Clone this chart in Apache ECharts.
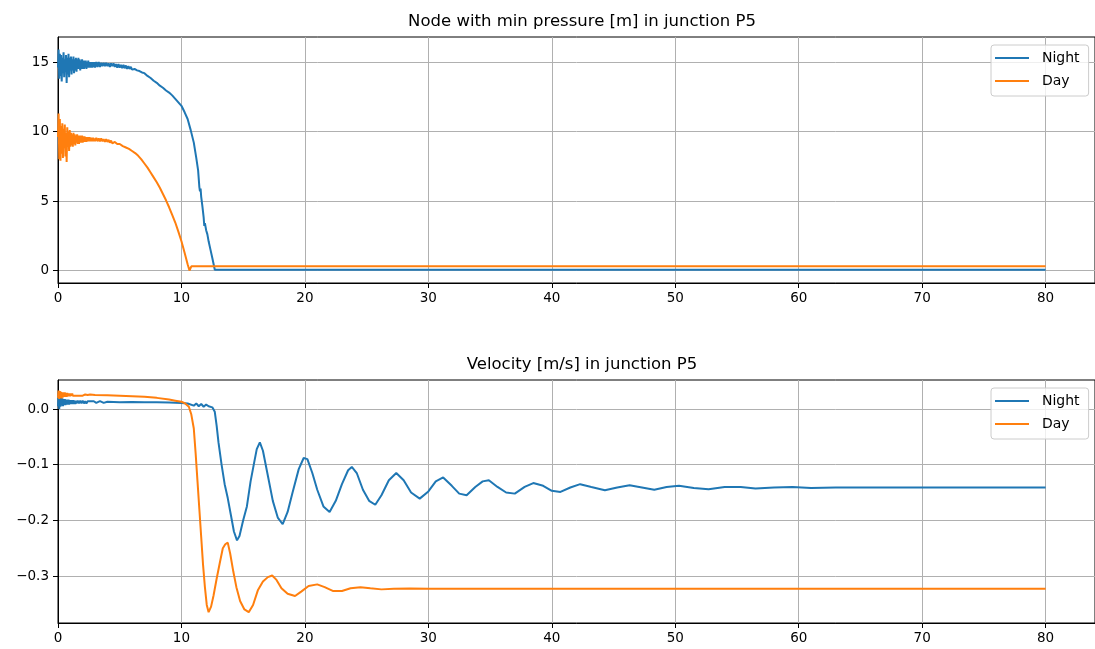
<!DOCTYPE html>
<html>
<head>
<meta charset="utf-8">
<script src="https://cdn.jsdelivr.net/npm/echarts@6/dist/echarts.min.js"></script>
<style>
  html, body { margin: 0; padding: 0; background: #fff; }
  #chart { width: 1095px; height: 649px; }
</style>
</head>
<body>
<div id="chart"></div>
<script>
// Time [s] and minimum node pressure [m], night demand
const nightPressure = [
  [0.00,14.6],[0.05,15.9],[0.10,13.8],[0.15,15.6],[0.20,14.0],[0.25,15.5],[0.30,13.6],[0.35,15.3],
  [0.40,14.2],[0.45,15.7],[0.50,13.9],[0.55,15.2],[0.60,14.3],[0.65,15.5],[0.70,13.5],[0.75,15.3],
  [0.80,14.1],[0.85,15.6],[0.90,13.9],[0.95,15.3],[1.00,14.4],[1.05,15.4],[1.10,14.1],[1.15,15.2],
  [1.20,14.4],[1.25,15.4],[1.30,14.2],[1.35,15.2],[1.40,14.4],[1.45,15.3],[1.50,14.3],[1.55,15.2],
  [1.60,14.5],[1.65,15.3],[1.70,14.5],[1.75,15.2],[1.80,14.4],[1.85,15.1],[1.90,14.5],[1.95,15.2],
  [2.00,14.5],[2.05,15.1],[2.10,14.5],[2.15,15.1],[2.20,14.6],[2.25,15.1],[2.30,14.5],[2.35,15.0],
  [2.40,14.6],[2.45,15.1],[2.50,14.6],[2.55,15.0],[2.60,14.6],[2.65,15.0],[2.70,14.6],[2.75,15.0],
  [2.80,14.6],[2.85,15.0],[2.90,14.65],[2.95,15.0],[3.00,14.6],[3.10,15.0],[3.20,14.65],[3.30,15.0],
  [3.40,14.65],[3.50,14.95],[3.60,14.7],[3.70,14.95],[3.80,14.7],[3.90,14.95],[4.00,14.7],[4.10,14.9],
  [4.20,14.65],[4.30,14.9],[4.40,14.7],[4.50,14.9],[4.60,14.65],[4.70,14.85],[4.80,14.6],[4.90,14.85],
  [5.00,14.6],[5.10,14.8],[5.20,14.55],[5.30,14.8],[5.40,14.55],[5.50,14.75],[5.60,14.5],[5.70,14.7],
  [5.80,14.5],[5.90,14.65],[6.00,14.45],[6.20,14.5],[6.40,14.4],[6.60,14.35],[6.80,14.25],
  [7.00,14.2],[7.25,14.0],[7.50,13.85],[7.75,13.65],[8.00,13.5],[8.25,13.3],[8.50,13.15],[8.75,12.95],
  [9.00,12.8],[9.25,12.6],[9.50,12.35],[9.75,12.1],[10.00,11.85],[10.25,11.4],[10.50,10.9],[10.75,10.1],
  [11.00,9.2],[11.20,8.1],[11.35,7.2],[11.45,6.0],[11.50,5.7],[11.55,5.9],[11.60,5.3],[11.70,4.6],
  [11.80,3.8],[11.85,3.2],[11.90,3.4],[12.00,2.9],[12.10,2.6],[12.20,2.1],[12.35,1.5],[12.50,0.9],
  [12.70,0.05],[80.00,0.05]
];

// Time [s] and minimum node pressure [m], day demand
const dayPressure = [
  [0.00,9.6],[0.05,11.3],[0.10,8.0],[0.15,10.9],[0.20,7.9],[0.25,10.4],[0.30,8.4],[0.35,10.6],
  [0.40,8.1],[0.45,10.2],[0.50,8.8],[0.55,10.5],[0.60,8.2],[0.65,9.9],[0.70,7.8],[0.75,10.3],
  [0.80,8.9],[0.85,10.0],[0.90,8.6],[0.95,10.1],[1.00,8.9],[1.05,9.9],[1.10,9.0],[1.15,9.8],
  [1.20,8.9],[1.25,9.9],[1.30,9.1],[1.35,9.8],[1.40,9.0],[1.45,9.7],[1.50,9.2],[1.55,9.8],
  [1.60,9.1],[1.65,9.7],[1.70,9.1],[1.75,9.7],[1.80,9.2],[1.85,9.7],[1.90,9.2],[1.95,9.7],
  [2.00,9.2],[2.05,9.65],[2.10,9.25],[2.15,9.65],[2.20,9.25],[2.25,9.6],[2.30,9.25],[2.35,9.6],
  [2.40,9.3],[2.45,9.6],[2.50,9.3],[2.55,9.6],[2.60,9.3],[2.65,9.55],[2.70,9.3],[2.75,9.55],
  [2.80,9.3],[2.85,9.55],[2.90,9.3],[2.95,9.5],[3.00,9.3],[3.10,9.55],[3.20,9.3],[3.30,9.5],
  [3.40,9.3],[3.50,9.5],[3.60,9.3],[3.70,9.45],[3.80,9.25],[3.90,9.45],[4.00,9.25],[4.10,9.4],
  [4.20,9.2],[4.30,9.35],[4.40,9.15],[4.60,9.25],[4.80,9.1],[5.00,9.1],[5.25,8.95],
  [5.50,8.85],[5.75,8.75],[6.00,8.6],[6.25,8.45],[6.50,8.25],[6.75,8.0],[7.00,7.7],[7.25,7.4],
  [7.50,7.05],[7.75,6.7],[8.00,6.35],[8.25,5.95],[8.50,5.5],[8.75,5.05],[9.00,4.55],[9.25,4.0],
  [9.50,3.45],[9.75,2.8],[10.00,2.1],[10.25,1.3],[10.50,0.45],[10.65,0.0],[10.80,0.3],[80.00,0.3]
];

// Time [s] and flow velocity [m/s], night demand
const nightVelocity = [
  [0.00,0.005],[0.05,0.025],[0.10,0.000],[0.15,0.022],[0.20,0.004],[0.25,0.020],[0.30,0.006],[0.35,0.019],
  [0.40,0.005],[0.45,0.018],[0.50,0.007],[0.55,0.018],[0.60,0.007],[0.65,0.017],[0.70,0.008],[0.75,0.017],
  [0.80,0.008],[0.85,0.017],[0.90,0.008],[0.95,0.016],[1.00,0.009],[1.05,0.016],[1.10,0.009],[1.15,0.016],
  [1.20,0.009],[1.25,0.016],[1.30,0.009],[1.35,0.015],[1.40,0.009],[1.45,0.015],[1.50,0.010],[1.60,0.015],
  [1.70,0.010],[1.80,0.015],[1.90,0.010],[2.00,0.015],[2.10,0.010],[2.20,0.014],[2.30,0.010],[2.40,0.014],
  [2.50,0.011],[2.60,0.014],[2.70,0.011],[2.90,0.014],[3.10,0.011],[3.40,0.014],[3.70,0.011],[4.00,0.013],
  [5.00,0.012],[6.00,0.0125],[7.00,0.012],[8.00,0.012],[9.00,0.0115],[10.00,0.011],[10.50,0.010],[11.00,0.006],
  [11.20,0.010],[11.40,0.005],[11.60,0.009],[11.80,0.004],[12.00,0.008],[12.20,0.005],[12.50,0.003],[12.70,-0.005],
  [12.85,-0.03],[13.00,-0.06],[13.25,-0.10],[13.50,-0.135],[13.75,-0.16],[14.00,-0.19],[14.25,-0.22],[14.50,-0.236],
  [14.70,-0.228],[15.00,-0.20],[15.30,-0.175],[15.60,-0.13],[15.90,-0.095],[16.10,-0.072],[16.35,-0.060],[16.60,-0.075],
  [17.00,-0.12],[17.40,-0.165],[17.80,-0.195],[18.20,-0.207],[18.60,-0.185],[19.00,-0.15],[19.50,-0.108],[19.90,-0.088],
  [20.20,-0.090],[20.60,-0.115],[21.00,-0.145],[21.50,-0.175],[22.00,-0.185],[22.50,-0.165],[23.00,-0.135],[23.50,-0.110],
  [23.80,-0.104],[24.20,-0.115],[24.70,-0.145],[25.20,-0.165],[25.70,-0.172],[26.20,-0.155],[26.80,-0.128],[27.40,-0.115],
  [28.00,-0.128],[28.60,-0.150],[29.30,-0.161],[30.00,-0.148],[30.60,-0.130],[31.20,-0.123],[31.90,-0.138],[32.50,-0.152],
  [33.10,-0.155],[33.80,-0.140],[34.40,-0.130],[34.90,-0.128],[35.60,-0.140],[36.30,-0.150],[37.00,-0.152],[37.80,-0.140],
  [38.50,-0.133],[39.30,-0.138],[40.00,-0.147],[40.70,-0.149],[41.50,-0.141],[42.30,-0.135],[43.20,-0.140],[44.30,-0.146],
  [45.30,-0.141],[46.30,-0.137],[47.30,-0.141],[48.30,-0.145],[49.30,-0.140],[50.30,-0.138],[51.50,-0.142],[52.70,-0.144],
  [54.00,-0.140],[55.30,-0.140],[56.50,-0.143],[58.00,-0.141],[59.50,-0.140],[61.00,-0.142],[63.00,-0.141],[66.00,-0.141],
  [70.00,-0.141],[75.00,-0.141],[80.00,-0.141]
];

// Time [s] and flow velocity [m/s], day demand
const dayVelocity = [
  [0.00,0.020],[0.05,0.033],[0.10,0.018],[0.15,0.032],[0.20,0.020],[0.25,0.031],[0.30,0.019],[0.35,0.030],
  [0.40,0.021],[0.45,0.030],[0.50,0.022],[0.55,0.030],[0.60,0.022],[0.65,0.029],[0.70,0.022],[0.75,0.029],
  [0.80,0.023],[0.85,0.028],[0.90,0.023],[0.95,0.028],[1.00,0.023],[1.05,0.028],[1.10,0.024],[1.15,0.028],
  [1.20,0.024],[1.25,0.027],[1.30,0.024],[1.35,0.027],[1.40,0.024],[1.50,0.027],[1.60,0.024],[1.70,0.027],
  [1.80,0.024],[1.90,0.026],[2.00,0.024],[2.20,0.026],[2.40,0.025],[2.60,0.026],[3.00,0.025],[4.00,0.0245],
  [5.00,0.024],[6.00,0.023],[7.00,0.022],[8.00,0.020],[9.00,0.017],[9.50,0.015],[10.00,0.013],[10.30,0.010],
  [10.60,0.004],[10.80,-0.010],[11.00,-0.035],[11.15,-0.08],[11.30,-0.13],[11.45,-0.18],[11.60,-0.23],[11.75,-0.28],
  [11.90,-0.32],[12.05,-0.352],[12.20,-0.365],[12.40,-0.355],[12.60,-0.335],[12.85,-0.305],[13.10,-0.277],[13.35,-0.250],
  [13.55,-0.243],[13.75,-0.240],[13.95,-0.260],[14.20,-0.292],[14.45,-0.320],[14.75,-0.345],[15.10,-0.360],[15.45,-0.365],
  [15.80,-0.352],[16.20,-0.325],[16.60,-0.310],[17.00,-0.302],[17.35,-0.299],[17.70,-0.307],[18.10,-0.322],[18.60,-0.332],
  [19.20,-0.336],[19.70,-0.328],[20.30,-0.318],[21.00,-0.315],[21.60,-0.320],[22.30,-0.327],[23.00,-0.327],[23.70,-0.322],
  [24.50,-0.320],[25.30,-0.322],[26.20,-0.324],[27.20,-0.323],[28.50,-0.3225],[30.00,-0.323],[40.00,-0.323],[50.00,-0.323],
  [60.00,-0.323],[70.00,-0.323],[80.00,-0.323]
];

// Tick positions
const timeTicks = [0, 10, 20, 30, 40, 50, 60, 70, 80];
const pressureTicks = [0, 5, 10, 15];
const velocityTicks = [0, -0.1, -0.2, -0.3];

const FONT = 'DejaVu Sans';
const BLUE = '#1f77b4';
const ORANGE = '#ff7f0e';

const fmtMinus = (s) => String(s).replace('-', '\u2212');

function xAxisFor(gridIndex) {
  return {
    type: 'value', gridIndex, min: 0, max: 84,
    axisLine: { show: true, onZero: false, lineStyle: { color: '#000', width: 1 } },
    axisTick: { show: true, inside: false, length: 5, customValues: timeTicks, lineStyle: { color: '#000', width: 1 } },
    axisLabel: { show: true, margin: 8, customValues: timeTicks, color: '#000', fontFamily: FONT, fontSize: 13.5,
      formatter: (v) => fmtMinus(v) },
    splitLine: { show: true, lineStyle: { color: '#b0b0b0', width: 1 } }
  };
}

function yAxisFor(gridIndex, min, max, ticks, fmt) {
  return {
    type: 'value', gridIndex, min, max,
    axisLine: { show: true, onZero: false, lineStyle: { color: '#000', width: 1 } },
    axisTick: { show: true, inside: false, length: 5, customValues: ticks, lineStyle: { color: '#000', width: 1 } },
    axisLabel: { show: true, margin: 9, customValues: ticks, color: '#000', fontFamily: FONT, fontSize: 13.5,
      formatter: fmt },
    splitLine: { show: true, lineStyle: { color: '#b0b0b0', width: 1 } }
  };
}

function legendAt(top) {
  return {
    orient: 'vertical', left: 991, top,
    data: ['Night', 'Day'],
    icon: 'rect', itemWidth: 34, itemHeight: 2, itemGap: 7,
    padding: [5, 9, 7, 4],
    backgroundColor: 'rgba(255,255,255,0.8)',
    borderColor: '#cccccc', borderWidth: 1, borderRadius: 3,
    selectedMode: false,
    textStyle: { fontFamily: FONT, fontSize: 14, color: '#000', lineHeight: 16, padding: [0, 0, 0, 8] }
  };
}

function lineSeries(name, data, color, idx) {
  return {
    name, type: 'line', data, xAxisIndex: idx, yAxisIndex: idx,
    showSymbol: false, symbol: 'none', clip: true,
    lineStyle: { color, width: 2 }, itemStyle: { color },
    emphasis: { disabled: true }
  };
}

const chart = echarts.init(document.getElementById('chart'), null, { renderer: 'canvas' });
chart.setOption({
  animation: false,
  backgroundColor: '#fff',
  title: [
    { text: 'Node with min pressure [m] in junction P5', left: 577, top: 8, textAlign: 'center',
      textStyle: { fontFamily: FONT, fontSize: 16.5, fontWeight: 'normal', color: '#000' } },
    { text: 'Velocity [m/s] in junction P5', left: 577, top: 351, textAlign: 'center',
      textStyle: { fontFamily: FONT, fontSize: 16.5, fontWeight: 'normal', color: '#000' } }
  ],
  legend: [legendAt(45), legendAt(388)],
  grid: [
    { left: 58, top: 37, width: 1038, height: 246, containLabel: false,
      show: true, borderColor: '#000', borderWidth: 1, backgroundColor: 'transparent' },
    { left: 58, top: 380, width: 1038, height: 243, containLabel: false,
      show: true, borderColor: '#000', borderWidth: 1, backgroundColor: 'transparent' }
  ],
  xAxis: [xAxisFor(0), xAxisFor(1)],
  yAxis: [
    yAxisFor(0, -0.9, 16.8, pressureTicks, (v) => fmtMinus(v)),
    yAxisFor(1, -0.3844, 0.0521, velocityTicks, (v) => fmtMinus(Number(v).toFixed(1)))
  ],
  series: [
    lineSeries('Night', nightPressure, BLUE, 0),
    lineSeries('Day', dayPressure, ORANGE, 0),
    lineSeries('Night', nightVelocity, BLUE, 1),
    lineSeries('Day', dayVelocity, ORANGE, 1)
  ]
});
</script>
</body>
</html>
